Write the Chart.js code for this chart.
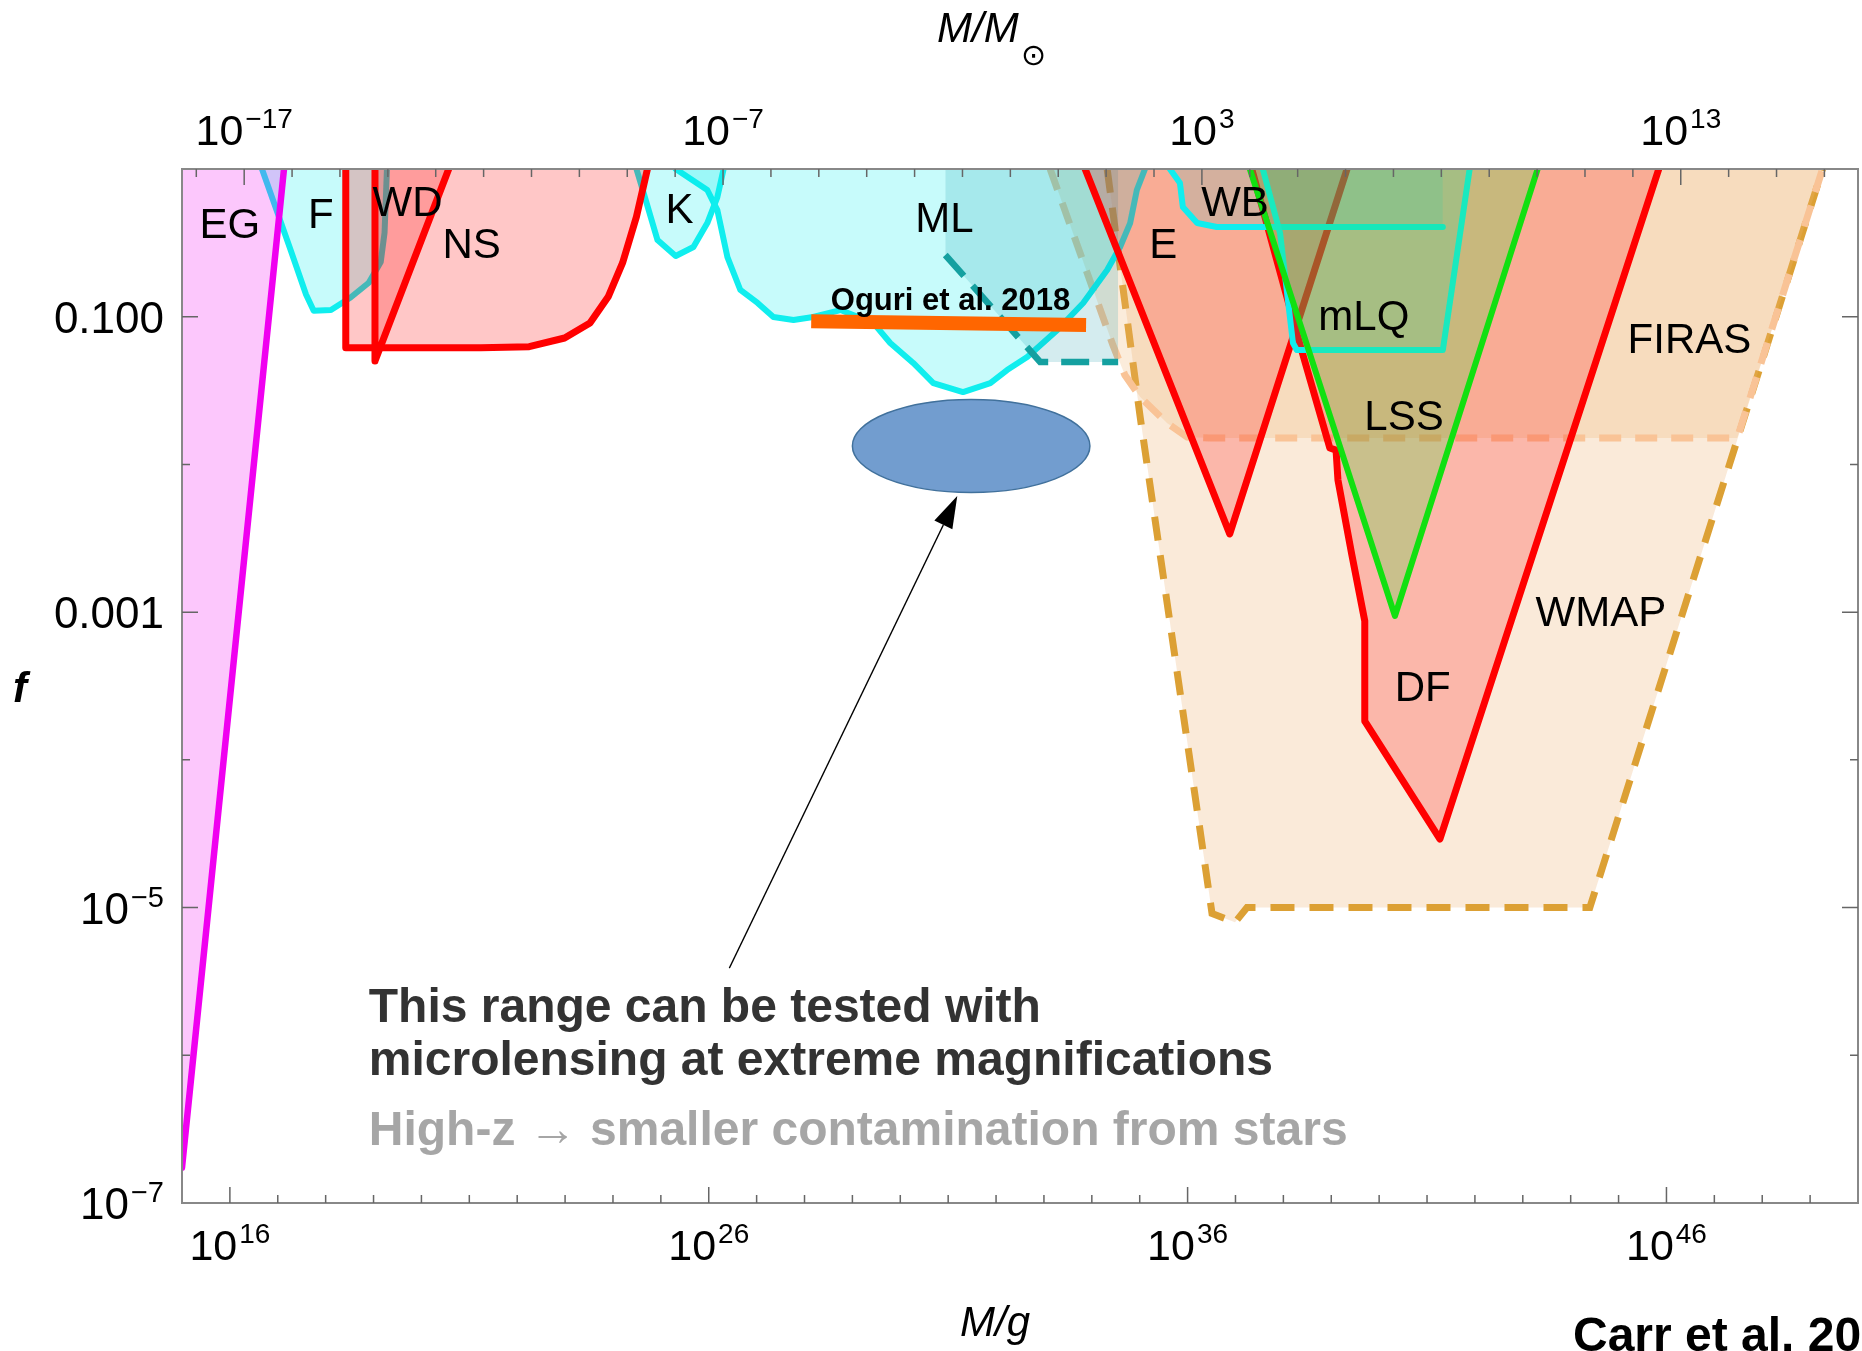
<!DOCTYPE html>
<html>
<head>
<meta charset="utf-8">
<script src="https://cdn.jsdelivr.net/npm/chart.js@4.4.0/dist/chart.umd.min.js"></script>
<style>
  html, body { margin: 0; padding: 0; background: #fff; overflow: hidden; }
  #wrap { position: relative; width: 1862px; height: 1351px; }
</style>
</head>
<body>
<div id="wrap"><canvas id="pbh"></canvas></div>
<script>
// every value is a log10: M in grams, f = fraction of dark matter in PBHs
const LOG_MSUN = 33.2986;

// extragalactic gamma rays
const egM = [15.0, 17.13];
const egF = [-6.76, 0];
// femtolensing
const fM = [16.67, 16.90, 17.27, 17.59, 17.75, 18.11, 18.52, 18.90, 19.15, 19.23, 19.28];
const fF = [0, -0.21, -0.55, -0.85, -0.96, -0.955, -0.87, -0.77, -0.63, -0.43, 0];
// white dwarfs
const wdM = [19.03, 19.03, 20.57];
const wdF = [0, -1.30, 0];
// neutron stars
const nsM = [18.42, 18.42, 21.24, 22.25, 22.99, 23.52, 23.90, 24.20, 24.49, 24.72];
const nsF = [0, -1.21, -1.21, -1.203, -1.144, -1.043, -0.865, -0.636, -0.323, 0];
// Kepler
const kM = [24.49, 24.64, 24.93, 25.31, 25.68, 25.97, 26.18, 26.31];
const kF = [0, -0.162, -0.481, -0.589, -0.528, -0.366, -0.190, 0];
// microlensing
const mlM = [25.31, 25.97, 26.18, 26.39, 26.66, 27.02, 27.35, 27.77, 28.18, 28.75, 29.44, 29.79,
             30.27, 30.69, 31.31, 31.88, 32.23, 32.65, 33.28, 33.82, 34.32, 34.59, 34.80, 34.94, 35.11];
const mlF = [0, -0.142, -0.278, -0.596, -0.819, -0.907, -1.002, -1.022, -1.002, -0.955, -1.043, -1.178,
             -1.313, -1.449, -1.510, -1.449, -1.361, -1.273, -1.090, -0.907, -0.684, -0.528, -0.366, -0.142, 0];
// dashed microlensing extension
const mlDashM = [30.94, 32.92, 34.55];
const mlDashF = [-0.582, -1.306, -1.306];
// Eridanus II
const eM = [33.86, 36.88, 39.33];
const eF = [0, -2.471, 0];
// wide binaries
const wbM = [35.63, 35.84, 35.90, 36.20, 36.61, 41.33];
const wbF = [0, -0.095, -0.257, -0.366, -0.393, -0.393];
// millilensing of quasars
const mlqM = [37.57, 37.93, 38.20, 38.28, 41.33, 41.89];
const mlqF = [0, -0.433, -1.178, -1.225, -1.225, 0];
// large scale structure
const lssM = [37.30, 40.33, 43.31];
const lssF = [0, -3.026, 0];
// dynamical friction
const dfM = [37.34, 38.35, 38.97, 39.10, 39.14, 39.43, 39.70, 39.70, 41.27, 45.84];
const dfF = [0, -1.192, -1.889, -1.903, -2.106, -2.613, -3.060, -3.737, -4.536, 0];
// FIRAS
const firasM = [33.13, 34.44, 34.69, 35.01, 35.57, 35.99, 36.47, 47.48, 49.26];
const firasF = [0, -1.192, -1.395, -1.544, -1.720, -1.815, -1.821, -1.821, 0];
// WMAP
const wmapM = [34.32, 35.01, 36.11, 36.51, 36.99, 37.24, 44.40, 49.26];
const wmapF = [0, -1.68, -4.14, -5.04, -5.10, -5.00, -5.00, 0];
// Oguri et al. 2018
const oguriM = [28.14, 33.88];
const oguriF = [-1.03, -1.056];

// annotations
const regionNames = ['EG', 'F', 'WD', 'NS', 'K', 'ML', 'E', 'WB', 'mLQ', 'LSS', 'FIRAS', 'WMAP', 'DF'];
const regionLabelM = [16.00, 17.90, 19.71, 21.05, 25.39, 30.92, 35.49, 36.99, 39.68, 40.52, 46.48, 44.63, 40.91];
const regionLabelF = [-0.386, -0.318, -0.237, -0.521, -0.284, -0.345, -0.521, -0.237, -1.009, -1.686, -1.165, -3.013, -3.521];
const ellipseLogM = [29.0, 33.96];
const ellipseLogF = [-2.19, -1.56];
const arrowLogM = [26.43, 31.19];
const arrowLogF = [-5.41, -2.214];
const noteLines = ['This range can be tested with', 'microlensing at extreme magnifications', 'High-z \u2192 smaller contamination from stars'];
const noteLogM = 18.90;
const noteLogF = [-5.775, -6.134, -6.608];
const oguriText = 'Oguri et al. 2018';
const oguriTextPos = [31.05, -0.955];

// ticks
const gramExpTicks = [16, 26, 36, 46];
const solarExpTicks = [-17, -7, 3, 13];
const fTickExps = [-1, -3, -5, -7];
const fTickPlain = ['0.100', '0.001', '', ''];
const fTickPow = ['', '', '\u22125', '\u22127'];

const FONT = '"Liberation Sans", Arial, sans-serif';

function toPoints(m, f) {
  return m.map((v, i) => ({ x: Math.pow(10, v), y: Math.pow(10, f[i]) }));
}

function area(m, f, color, fillColor, width, dash, order) {
  return {
    data: toPoints(m, f),
    borderColor: color,
    backgroundColor: fillColor || 'rgba(0,0,0,0)',
    borderWidth: width,
    borderDash: dash || [],
    fill: fillColor ? 'end' : false,
    pointRadius: 0,
    pointHoverRadius: 0,
    borderJoinStyle: dash ? 'miter' : 'round',
    borderCapStyle: dash ? 'butt' : 'round',
    order: order
  };
}

const RED = '#ff0000', CYAN = '#10eeee';
const redFill = 'rgba(255,0,0,0.22)', cyanFill = 'rgba(0,235,235,0.22)';

const datasets = [
  area(wmapM, wmapF, '#dca034', 'rgba(230,160,80,0.22)', 7, [24, 15], 20),
  area(firasM, firasF, '#f9c396', 'rgba(240,180,110,0.25)', 7, [22, 14], 19),
  area(mlM, mlF, CYAN, cyanFill, 6, null, 18),
  area(kM, kF, CYAN, cyanFill, 6, null, 17),
  area(mlDashM, mlDashF, '#14a0a0', 'rgba(0,140,160,0.17)', 6.5, [28, 13], 16),
  area(fM, fF, CYAN, cyanFill, 6, null, 15),
  area(egM, egF, '#f000f0', 'rgba(240,0,240,0.22)', 6.5, null, 14),
  area(nsM, nsF, RED, redFill, 7, null, 13),
  area(wdM, wdF, RED, redFill, 7, null, 12),
  area(eM, eF, RED, redFill, 7, null, 11),
  area(dfM, dfF, RED, redFill, 7, null, 10),
  area(wbM, wbF, CYAN, 'rgba(0,200,210,0.15)', 6, null, 9),
  area(mlqM, mlqF, CYAN, 'rgba(0,220,200,0.18)', 6, null, 8),
  area(lssM, lssF, '#11e011', 'rgba(50,220,50,0.25)', 6, null, 7),
  Object.assign(area(oguriM, oguriF, '#ff6600', null, 14, null, 1), { borderCapStyle: 'butt' })
];

function powLabel(ctx, exp, x, y, align, big, small, raise) {
  ctx.textBaseline = 'alphabetic';
  ctx.textAlign = 'left';
  ctx.font = big + 'px ' + FONT;
  const w1 = ctx.measureText('10').width;
  ctx.font = small + 'px ' + FONT;
  const w2 = ctx.measureText(exp).width;
  const total = w1 + w2 + 2;
  const x0 = align === 'center' ? x - total / 2 : x - total;
  ctx.font = big + 'px ' + FONT;
  ctx.fillText('10', x0, y);
  ctx.font = small + 'px ' + FONT;
  ctx.fillText(exp, x0 + w1 + 2, y - raise);
}

const decor = {
  id: 'decor',
  afterDatasetsDraw(chart) {
    const ctx = chart.ctx;
    const a = chart.chartArea;
    const xs = chart.scales.x, ys = chart.scales.y;
    const X = m => xs.getPixelForValue(Math.pow(10, m));
    const Y = f => ys.getPixelForValue(Math.pow(10, f));
    ctx.save();

    // ellipse marking the testable range
    const ex0 = X(ellipseLogM[0]), ex1 = X(ellipseLogM[1]);
    const ey0 = Y(ellipseLogF[0]), ey1 = Y(ellipseLogF[1]);
    ctx.beginPath();
    ctx.ellipse((ex0 + ex1) / 2, (ey0 + ey1) / 2, (ex1 - ex0) / 2, Math.abs(ey0 - ey1) / 2, 0, 0, 2 * Math.PI);
    ctx.fillStyle = '#729dcf';
    ctx.fill();
    ctx.lineWidth = 1.5;
    ctx.strokeStyle = '#41719c';
    ctx.stroke();

    // arrow
    const tx = X(arrowLogM[0]), ty = Y(arrowLogF[0]);
    const hx = X(arrowLogM[1]), hy = Y(arrowLogF[1]);
    const ang = Math.atan2(hy - ty, hx - tx);
    const hl = 32, hw = 10;
    const bx = hx - hl * Math.cos(ang), by = hy - hl * Math.sin(ang);
    ctx.strokeStyle = '#000';
    ctx.lineWidth = 1.3;
    ctx.beginPath();
    ctx.moveTo(tx, ty);
    ctx.lineTo(bx, by);
    ctx.stroke();
    ctx.beginPath();
    ctx.moveTo(hx, hy);
    ctx.lineTo(bx + hw * Math.sin(ang), by - hw * Math.cos(ang));
    ctx.lineTo(bx - hw * Math.sin(ang), by + hw * Math.cos(ang));
    ctx.closePath();
    ctx.fillStyle = '#000';
    ctx.fill();

    // region names
    ctx.fillStyle = '#000';
    ctx.font = '42px ' + FONT;
    ctx.textAlign = 'center';
    ctx.textBaseline = 'middle';
    regionNames.forEach((n, i) => ctx.fillText(n, X(regionLabelM[i]), Y(regionLabelF[i])));

    // Oguri label
    ctx.font = 'bold 31px ' + FONT;
    ctx.textBaseline = 'alphabetic';
    ctx.fillText(oguriText, X(oguriTextPos[0]), Y(oguriTextPos[1]));

    // notes
    ctx.textAlign = 'left';
    ctx.font = 'bold 48px ' + FONT;
    noteLines.forEach((t, i) => {
      ctx.fillStyle = i < 2 ? '#333333' : '#a6a6a6';
      ctx.fillText(t, X(noteLogM), Y(noteLogF[i]));
    });

    // frame
    ctx.strokeStyle = '#888';
    ctx.lineWidth = 2;
    ctx.strokeRect(a.left, a.top, a.right - a.left, a.bottom - a.top);

    // ticks
    ctx.strokeStyle = '#666';
    ctx.lineWidth = 1.5;
    ctx.beginPath();
    for (let k = 16; k < 50; k++) {
      const x = X(k);
      const len = gramExpTicks.includes(k) ? 16 : 8;
      ctx.moveTo(x, a.bottom); ctx.lineTo(x, a.bottom - len);
    }
    for (let e = -18; e <= 17; e++) {
      const m = e + LOG_MSUN;
      if (m <= 15 || m >= 50) continue;
      const x = X(m);
      const len = solarExpTicks.includes(e) ? 16 : 8;
      ctx.moveTo(x, a.top); ctx.lineTo(x, a.top + len);
    }
    for (let k = -6; k <= -1; k++) {
      const y = Y(k);
      const len = fTickExps.includes(k) ? 16 : 8;
      ctx.moveTo(a.left, y); ctx.lineTo(a.left + len, y);
      ctx.moveTo(a.right, y); ctx.lineTo(a.right - len, y);
    }
    ctx.stroke();

    // tick labels
    ctx.fillStyle = '#000';
    gramExpTicks.forEach(k => powLabel(ctx, String(k), X(k), a.bottom + 57, 'center', 43, 28, 17));
    solarExpTicks.forEach(e => {
      const s = e < 0 ? '\u2212' + (-e) : String(e);
      powLabel(ctx, s, X(e + LOG_MSUN), a.top - 24, 'center', 43, 28, 17);
    });
    fTickExps.forEach((k, i) => {
      const y = Y(k) + 16;
      if (fTickPlain[i]) {
        ctx.font = '44px ' + FONT;
        ctx.textAlign = 'right';
        ctx.textBaseline = 'alphabetic';
        ctx.fillText(fTickPlain[i], a.left - 18, y);
      } else {
        powLabel(ctx, fTickPow[i], a.left - 18, y, 'right', 44, 29, 17);
      }
    });

    // axis titles
    ctx.textBaseline = 'alphabetic';
    ctx.textAlign = 'left';
    ctx.font = 'italic 42px ' + FONT;
    ctx.fillText('M/M', 937, 42);
    ctx.font = '30px "DejaVu Sans", sans-serif';
    ctx.fillText('\u2299', 1021, 65);
    ctx.font = 'italic 42px ' + FONT;
    ctx.textAlign = 'center';
    ctx.fillText('M/g', 995, 1336);
    ctx.font = 'bold italic 42px ' + FONT;
    ctx.fillText('f', 20, 702);

    // source
    ctx.textAlign = 'left';
    ctx.font = 'bold 48px ' + FONT;
    ctx.fillText('Carr et al. 2020', 1573, 1351);

    ctx.restore();
  }
};

new Chart(document.getElementById('pbh').getContext('2d'), {
  type: 'line',
  data: { datasets: datasets },
  options: {
    responsive: true,
    maintainAspectRatio: false,
    animation: false,
    layout: { padding: { left: 182, top: 169, right: 4, bottom: 148 } },
    plugins: {
      legend: { display: false },
      tooltip: { enabled: false }
    },
    scales: {
      x: { type: 'logarithmic', min: 1e15, max: 1e50, display: false },
      y: { type: 'logarithmic', min: 1e-7, max: 1, display: false }
    }
  },
  plugins: [decor]
});
</script>
</body>
</html>
